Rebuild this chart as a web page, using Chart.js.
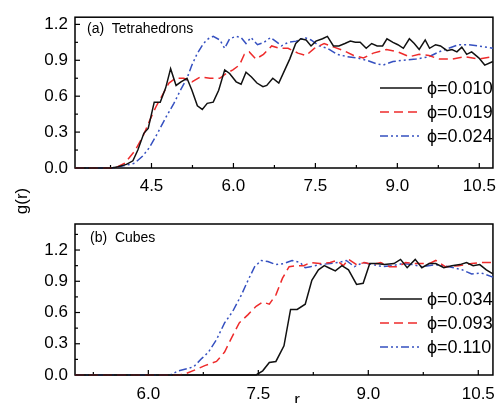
<!DOCTYPE html>
<html>
<head>
<meta charset="utf-8">
<script src="https://cdn.jsdelivr.net/npm/chart.js@4.4.0/dist/chart.umd.min.js"></script>
<style>
  body { margin: 0; background: #fff; width: 504px; height: 403px; overflow: hidden; position: relative;
         font-family: "Liberation Sans", Arial, sans-serif; color: #000; }
  canvas { position: absolute; left: 0; }
  #cTop { top: 0; }
  #cBot { top: 200px; }
  .lbl { position: absolute; white-space: pre; line-height: 1; }
  .panel { font-size: 14px; }
  .axis { font-size: 17px; }
  .leg { position: absolute; left: 380px; height: 18px; }
  .leg svg { position: absolute; left: 0; top: 4px; }
  .leg span { position: absolute; left: 47px; top: 0; font-size: 18px; line-height: 18px; white-space: nowrap; }
</style>
</head>
<body>
<canvas id="cTop" width="504" height="200"></canvas>
<canvas id="cBot" width="504" height="203"></canvas>
<div class="lbl panel" style="left:87px;top:21px">(a)  Tetrahedrons</div>
<div class="lbl panel" style="left:90px;top:230px">(b)  Cubes</div>
<div class="lbl axis" style="left:21px;top:201px;transform:translate(-50%,-50%) rotate(-90deg)">g(r)</div>
<div class="lbl axis" style="left:297px;top:391px;transform:translateX(-50%)">r</div>
<div id="legends"></div>
<script>
// (a) tetrahedrons
const rTet010 = [3.1, 3.77, 3.89, 4.04, 4.16, 4.25, 4.36, 4.44, 4.55, 4.66, 4.76, 4.85, 4.95, 5.04, 5.15, 5.24, 5.34, 5.43, 5.52, 5.63, 5.73, 5.84, 5.93, 6.05, 6.14, 6.23, 6.33, 6.43, 6.54, 6.61, 6.72, 6.83, 6.94, 7.03, 7.14, 7.23, 7.33, 7.42, 7.51, 7.63, 7.72, 7.83, 7.93, 8.04, 8.14, 8.23, 8.32, 8.43, 8.53, 8.63, 8.73, 8.81, 8.92, 9.01, 9.11, 9.22, 9.31, 9.40, 9.51, 9.59, 9.70, 9.79, 9.91, 10.0, 10.09, 10.18, 10.27, 10.36, 10.49, 10.60, 10.75];
const gTet010 = [0, 0, 0.01, 0.03, 0.06, 0.15, 0.29, 0.33, 0.55, 0.55, 0.67, 0.83, 0.69, 0.72, 0.75, 0.65, 0.52, 0.49, 0.54, 0.55, 0.65, 0.82, 0.79, 0.72, 0.70, 0.80, 0.76, 0.71, 0.68, 0.69, 0.75, 0.71, 0.82, 0.91, 1.04, 1.08, 1.07, 1.02, 1.06, 1.08, 1.10, 1.02, 1.02, 1.04, 1.06, 1.05, 1.05, 1.00, 1.04, 1.02, 1.02, 1.08, 1.05, 1.03, 1.00, 1.08, 1.04, 0.99, 1.07, 1.00, 1.03, 1.02, 0.98, 0.99, 0.97, 1.01, 0.95, 0.97, 0.92, 0.86, 0.89];
const rTet019 = [3.1, 3.83, 4.01, 4.19, 4.34, 4.46, 4.58, 4.70, 4.82, 4.94, 5.09, 5.24, 5.39, 5.57, 5.75, 5.87, 5.99, 6.11, 6.20, 6.29, 6.41, 6.55, 6.70, 6.85, 7.00, 7.18, 7.33, 7.48, 7.66, 7.84, 8.02, 8.20, 8.38, 8.56, 8.80, 9.01, 9.22, 9.40, 9.58, 9.76, 10.0, 10.24, 10.48, 10.75];
const gTet019 = [0, 0, 0.04, 0.14, 0.26, 0.39, 0.51, 0.61, 0.71, 0.75, 0.75, 0.72, 0.76, 0.75, 0.75, 0.79, 0.82, 0.86, 0.95, 0.97, 0.91, 0.95, 1.02, 1.00, 1.00, 0.96, 0.94, 1.00, 1.04, 1.01, 0.98, 0.94, 0.92, 0.96, 0.99, 0.97, 0.93, 0.95, 0.94, 0.91, 0.91, 0.93, 0.91, 0.93];
const rTet024 = [3.1, 3.77, 4.01, 4.19, 4.34, 4.46, 4.61, 4.76, 4.91, 5.03, 5.15, 5.24, 5.33, 5.45, 5.54, 5.63, 5.75, 5.84, 5.93, 6.05, 6.14, 6.23, 6.32, 6.44, 6.56, 6.68, 6.80, 6.88, 7.00, 7.15, 7.30, 7.42, 7.57, 7.72, 7.90, 8.08, 8.26, 8.44, 8.62, 8.74, 8.92, 9.10, 9.34, 9.58, 9.76, 9.94, 10.12, 10.30, 10.48, 10.75];
const gTet024 = [0, 0, 0.02, 0.04, 0.10, 0.17, 0.29, 0.42, 0.54, 0.65, 0.75, 0.86, 0.95, 1.04, 1.08, 1.10, 1.07, 1.00, 1.08, 1.10, 1.09, 1.04, 1.09, 1.03, 1.05, 1.09, 1.05, 1.02, 1.05, 1.06, 1.09, 1.07, 1.02, 1.00, 0.95, 0.93, 0.92, 0.90, 0.87, 0.86, 0.89, 0.90, 0.91, 0.93, 0.97, 1.00, 1.03, 1.03, 1.02, 1.00];

// (b) cubes
const rCub034 = [5.0, 7.47, 7.56, 7.65, 7.74, 7.85, 7.94, 8.03, 8.14, 8.23, 8.32, 8.40, 8.46, 8.55, 8.64, 8.73, 8.84, 8.93, 9.02, 9.11, 9.22, 9.35, 9.44, 9.53, 9.64, 9.73, 9.83, 9.92, 10.03, 10.14, 10.25, 10.34, 10.43, 10.52, 10.61, 10.70];
const gCub034 = [0, 0, 0.04, 0.12, 0.13, 0.28, 0.63, 0.63, 0.68, 0.91, 1.01, 1.05, 1.03, 1.00, 1.05, 1.01, 0.87, 0.88, 1.07, 1.07, 1.06, 1.07, 1.11, 1.03, 1.11, 1.03, 1.07, 1.07, 1.03, 1.05, 1.06, 1.08, 1.05, 1.06, 1.01, 0.97];
const rCub093 = [5.0, 6.41, 6.50, 6.64, 6.77, 6.93, 7.04, 7.13, 7.24, 7.36, 7.47, 7.56, 7.65, 7.74, 7.83, 7.92, 8.03, 8.12, 8.21, 8.34, 8.48, 8.57, 8.66, 8.73, 8.84, 8.95, 9.06, 9.17, 9.29, 9.40, 9.51, 9.65, 9.83, 9.92, 10.05, 10.23, 10.41, 10.54, 10.70];
const gCub093 = [0, 0, 0.01, 0.05, 0.09, 0.13, 0.22, 0.35, 0.50, 0.58, 0.66, 0.70, 0.68, 0.77, 0.93, 1.04, 1.05, 1.05, 1.08, 1.07, 1.08, 1.10, 1.05, 1.11, 1.06, 1.08, 1.06, 1.08, 1.04, 1.04, 1.08, 1.07, 1.07, 1.10, 1.04, 1.05, 1.07, 1.08, 1.08];
const rCub110 = [5.0, 6.30, 6.41, 6.53, 6.62, 6.73, 6.82, 6.93, 7.04, 7.15, 7.27, 7.36, 7.45, 7.54, 7.63, 7.74, 7.85, 7.96, 8.07, 8.14, 8.21, 8.34, 8.48, 8.59, 8.70, 8.81, 8.93, 9.06, 9.20, 9.33, 9.47, 9.60, 9.74, 9.92, 10.10, 10.28, 10.41, 10.54, 10.70];
const gCub110 = [0, 0, 0.04, 0.06, 0.08, 0.16, 0.22, 0.34, 0.50, 0.61, 0.77, 0.91, 1.04, 1.10, 1.09, 1.06, 1.07, 1.10, 1.08, 1.03, 1.04, 1.06, 1.07, 1.08, 1.10, 1.04, 1.08, 1.06, 1.04, 1.05, 1.07, 1.06, 1.04, 1.06, 1.04, 1.01, 0.97, 0.98, 0.94];

const tetLabels = ['\u03d5=0.010', '\u03d5=0.019', '\u03d5=0.024'];
const cubLabels = ['\u03d5=0.034', '\u03d5=0.093', '\u03d5=0.110'];
const tetXTicks = [4.5, 6.0, 7.5, 9.0, 10.5];
const cubXTicks = [6.0, 7.5, 9.0, 10.5];
const yTicks = [0, 0.3, 0.6, 0.9, 1.2];

const LINE_STYLES = [
  { color: '#111111', dash: [] },
  { color: '#ee2b2b', dash: [9, 5] },
  { color: '#3550c0', dash: [8, 3, 2, 3, 2, 3] }
];

Chart.defaults.font.family = '"Liberation Sans", Arial, sans-serif';
Chart.defaults.font.size = 17;
Chart.defaults.color = '#000';

// inward ticks (major + one minor between) and the box around the plot
function tickMarks(ctx, scale, majors, horizontal, a) {
  const step = majors[1] - majors[0];
  let v = majors[0];
  while (v - step / 2 > scale.min) v -= step / 2;
  for (; v <= scale.max + 1e-9; v += step / 2) {
    if (v < scale.min) continue;
    const major = majors.some(m => Math.abs(m - v) < 1e-6);
    const len = major ? 5 : 3;
    const p = scale.getPixelForValue(v);
    ctx.beginPath();
    if (horizontal) { ctx.moveTo(p, a.bottom); ctx.lineTo(p, a.bottom - len); }
    else { ctx.moveTo(a.left, p); ctx.lineTo(a.left + len, p); }
    ctx.stroke();
  }
}

// drawn under the curves so the flat g=0 parts stay visible on the axis
const framePlugin = {
  id: 'frame',
  beforeDatasetsDraw(chart) {
    const { ctx, chartArea: a, scales } = chart;
    ctx.save();
    ctx.strokeStyle = '#000';
    ctx.lineWidth = 1.5;
    ctx.strokeRect(a.left, a.top, a.right - a.left, a.bottom - a.top);
    ctx.lineWidth = 1.2;
    tickMarks(ctx, scales.x, chart.options.xMajors, true, a);
    tickMarks(ctx, scales.y, yTicks, false, a);
    ctx.restore();
  }
};

function makePanel(id, series, p) {
  return new Chart(document.getElementById(id), {
    type: 'line',
    data: {
      datasets: series.map((s, i) => ({
        data: s.r.map((x, k) => ({ x, y: s.g[k] })),
        borderColor: LINE_STYLES[i].color,
        borderDash: LINE_STYLES[i].dash,
        borderWidth: 1.5,
        pointRadius: 0,
        tension: 0,
        fill: false,
        clip: 2
      }))
    },
    options: {
      responsive: false,
      animation: false,
      events: [],
      xMajors: p.xTicks,
      layout: { padding: { top: p.top, right: 5, left: 0, bottom: 0 } },
      plugins: { legend: { display: false }, tooltip: { enabled: false } },
      scales: {
        x: {
          type: 'linear', min: p.xMin, max: p.xMax,
          afterBuildTicks: s => { s.ticks = p.xTicks.map(v => ({ value: v })); },
          afterFit: s => { s.height = p.xh; },
          grid: { display: false, drawTicks: false },
          border: { display: false },
          ticks: { padding: p.xpad, maxRotation: 0, autoSkip: false, callback: v => v.toFixed(1) }
        },
        y: {
          min: 0, max: p.yMax,
          afterBuildTicks: s => { s.ticks = yTicks.map(v => ({ value: v })); },
          afterFit: s => { s.width = 75; },
          grid: { display: false, drawTicks: false },
          border: { display: false },
          ticks: { padding: 7, callback: v => v.toFixed(1) }
        }
      }
    },
    plugins: [framePlugin]
  });
}

makePanel('cTop', [
  { r: rTet010, g: gTet010 }, { r: rTet019, g: gTet019 }, { r: rTet024, g: gTet024 }
], { xMin: 3.1, xMax: 10.75, yMax: 1.26, xTicks: tetXTicks, top: 16, xh: 32, xpad: 8 });

makePanel('cBot', [
  { r: rCub034, g: gCub034 }, { r: rCub093, g: gCub093 }, { r: rCub110, g: gCub110 }
], { xMin: 5.0, xMax: 10.7, yMax: 1.45, xTicks: cubXTicks, top: 24, xh: 28, xpad: 9 });

// legends inside the plots
function addLegend(labels, top) {
  const box = document.getElementById('legends');
  labels.forEach((txt, i) => {
    const st = LINE_STYLES[i];
    const row = document.createElement('div');
    row.className = 'leg';
    row.style.top = (top + i * 24) + 'px';
    row.innerHTML =
      `<svg width="42" height="10"><line x1="0" y1="5" x2="42" y2="5" stroke="${st.color}" stroke-width="1.5" stroke-dasharray="${st.dash.join(' ') || 'none'}"/></svg>` +
      `<span>${txt}</span>`;
    box.appendChild(row);
  });
}
addLegend(tetLabels, 79);
addLegend(cubLabels, 290);
</script>
</body>
</html>
